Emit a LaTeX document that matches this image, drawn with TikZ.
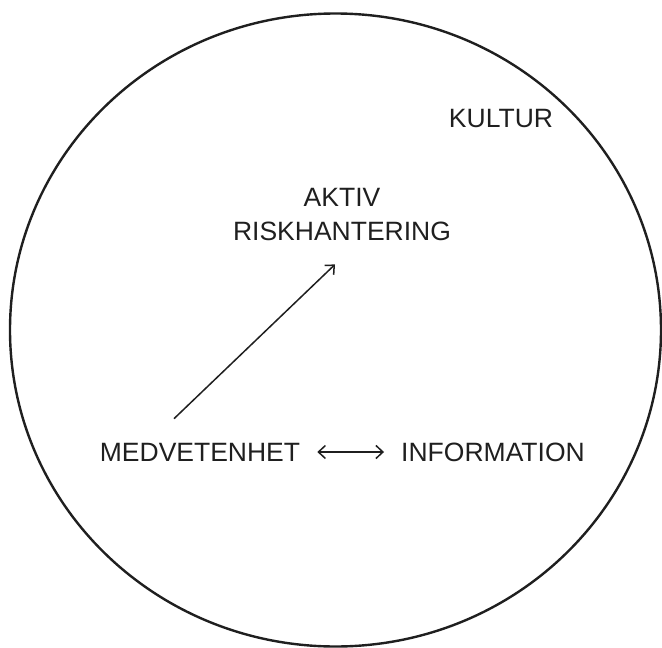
\documentclass[tikz,border=0pt]{standalone}
\usepackage{fontspec}
\setmainfont{Liberation Sans}
\usetikzlibrary{arrows.meta}
\usetikzlibrary{calc}
\colorlet{ink}{black!88}

\begin{document}
\begin{tikzpicture}[x=1pt,y=-1pt,
    lbl/.style={inner sep=0pt,text=ink,font=\fontsize{26.5}{34}\selectfont},
    barb/.tip={Straight Barb[length=7pt,width=13pt]},
    link/.style={draw=ink,line width=1.5pt}]
    % Canvas
    \useasboundingbox (0,0) rectangle (662,648);
    % Outer boundary
    \draw[ink,line width=2.4pt] (335.5,330) ellipse (325.5pt and 316.5pt);
    % Labels
    \node[lbl] (kultur) at (501,119) {KULTUR};
    \node[lbl,align=center] (aktiv) at (342,215) {AKTIV\\RISKHANTERING};
    \node[lbl] (medv) at (200,452) {MEDVETENHET};
    \node[lbl] (info) at (493,452) {INFORMATION};
    % Arrows
    \coordinate (foot) at ($(medv.north)+(-26,-24)$);
    \coordinate (head) at ($(aktiv.south)+(-7,23)$);
    \draw[link,-barb] (foot) -- (head);
    \draw[link,barb-barb] ($(medv.east)+(17,0)$) -- ($(info.west)+(-17,0)$);
\end{tikzpicture}
\end{document}
